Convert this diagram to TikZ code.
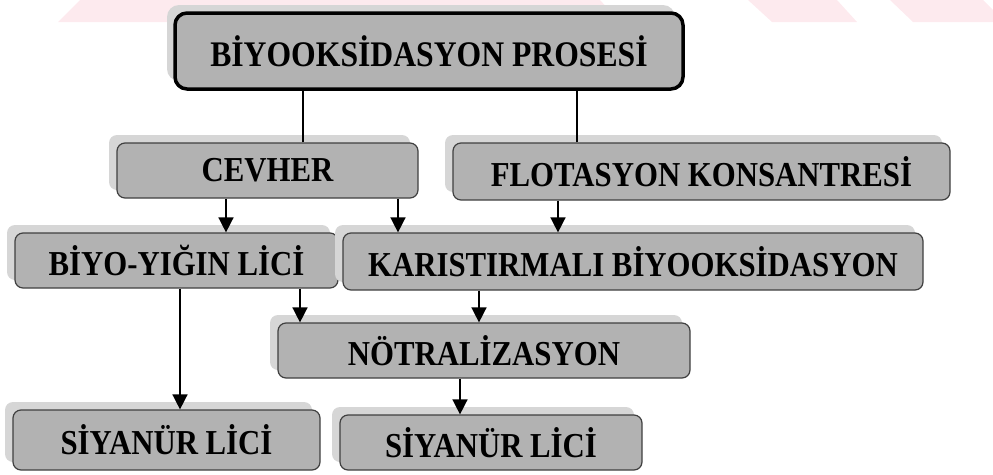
\documentclass[tikz,border=0pt]{standalone}
\usepackage{fontspec}
\setmainfont{Liberation Serif}[FakeStretch=0.88]
\usetikzlibrary{arrows.meta,shadows}

\definecolor{boxfill}{gray}{0.70}
\definecolor{halo}{gray}{0.84}
\definecolor{edge}{gray}{0.25}
\definecolor{wmpink}{RGB}{253,234,238}

\tikzset{
  stagebox/.style={draw=edge, line width=1.2pt, fill=boxfill, rounded corners=8pt,
    inner sep=0pt, align=center, text=black,
    font=\bfseries\fontsize{35}{40}\selectfont,
    general shadow={shadow xshift=-8pt, shadow yshift=8pt, fill=halo}},
  headbox/.style={stagebox, draw=black, line width=3.5pt, rounded corners=12pt,
    font=\bfseries\fontsize{36}{42}\selectfont},
  link/.style={line width=1.5pt, draw=black},
  flow/.style={link, -{Triangle[length=15pt,width=15pt]}}
}

\begin{document}
\begin{tikzpicture}[x=1pt,y=-1pt]
\useasboundingbox (0,0) rectangle (993,474);

% faint watermark bands along the top edge
\fill[wmpink] (58,22) -- (80,0) -- (600,0) -- (620,22) -- cycle;
\fill[wmpink] (772,22) -- (748,0) -- (837,0) -- (857,22) -- cycle;
\fill[wmpink] (913,22) -- (890,0) -- (983,0) -- (993,10) -- (993,22) -- cycle;

% process stages
\node[headbox, minimum width=508pt, minimum height=76pt] (top) at (429,51) {BİYOOKSİDASYON PROSESİ};
\node[stagebox, minimum width=301pt, minimum height=55pt] (ore) at (267.5,170.5) {CEVHER};
\node[stagebox, minimum width=497pt, minimum height=57pt] (flot) at (701.5,171.5) {FLOTASYON KONSANTRESİ};
\node[stagebox, minimum width=323pt, minimum height=55pt] (heap) at (176.5,260.5) {BİYO-YIĞIN LİCİ};
\node[stagebox, minimum width=580pt, minimum height=57pt] (tank) at (633,261.5) {KARISTIRMALI BİYOOKSİDASYON};
\node[stagebox, minimum width=412pt, minimum height=55pt] (neut) at (484,350.5) {NÖTRALİZASYON};
\node[stagebox, minimum width=307pt, minimum height=60pt] (cyanA) at (166.5,440) {SİYANÜR LİCİ};
\node[stagebox, minimum width=302pt, minimum height=55pt] (cyanB) at (491,442.5) {SİYANÜR LİCİ};

% branches from the process title
\draw[link] ([xshift=35.5pt]ore.north) -- ([xshift=35.5pt]ore.north |- top.south);
\draw[link] ([xshift=-124.5pt]flot.north) -- ([xshift=-124.5pt]flot.north |- top.south);

% material flow
\draw[flow] ([xshift=-41.5pt]ore.south) -- ([xshift=-41.5pt]ore.south |- heap.north);
\draw[flow] ([xshift=130.5pt]ore.south) -- ([xshift=130.5pt]ore.south |- tank.north);
\draw[flow] ([xshift=-143.5pt]flot.south) -- ([xshift=-143.5pt]flot.south |- tank.north);
\draw[flow] ([xshift=3.5pt]heap.south) -- ([xshift=3.5pt]heap.south |- cyanA.north);
\draw[flow] ([xshift=123.5pt]heap.south) -- ([xshift=123.5pt]heap.south |- neut.north);
\draw[flow] ([xshift=-154pt]tank.south) -- ([xshift=-154pt]tank.south |- neut.north);
\draw[flow] ([xshift=-24pt]neut.south) -- ([xshift=-24pt]neut.south |- cyanB.north);
\end{tikzpicture}
\end{document}
